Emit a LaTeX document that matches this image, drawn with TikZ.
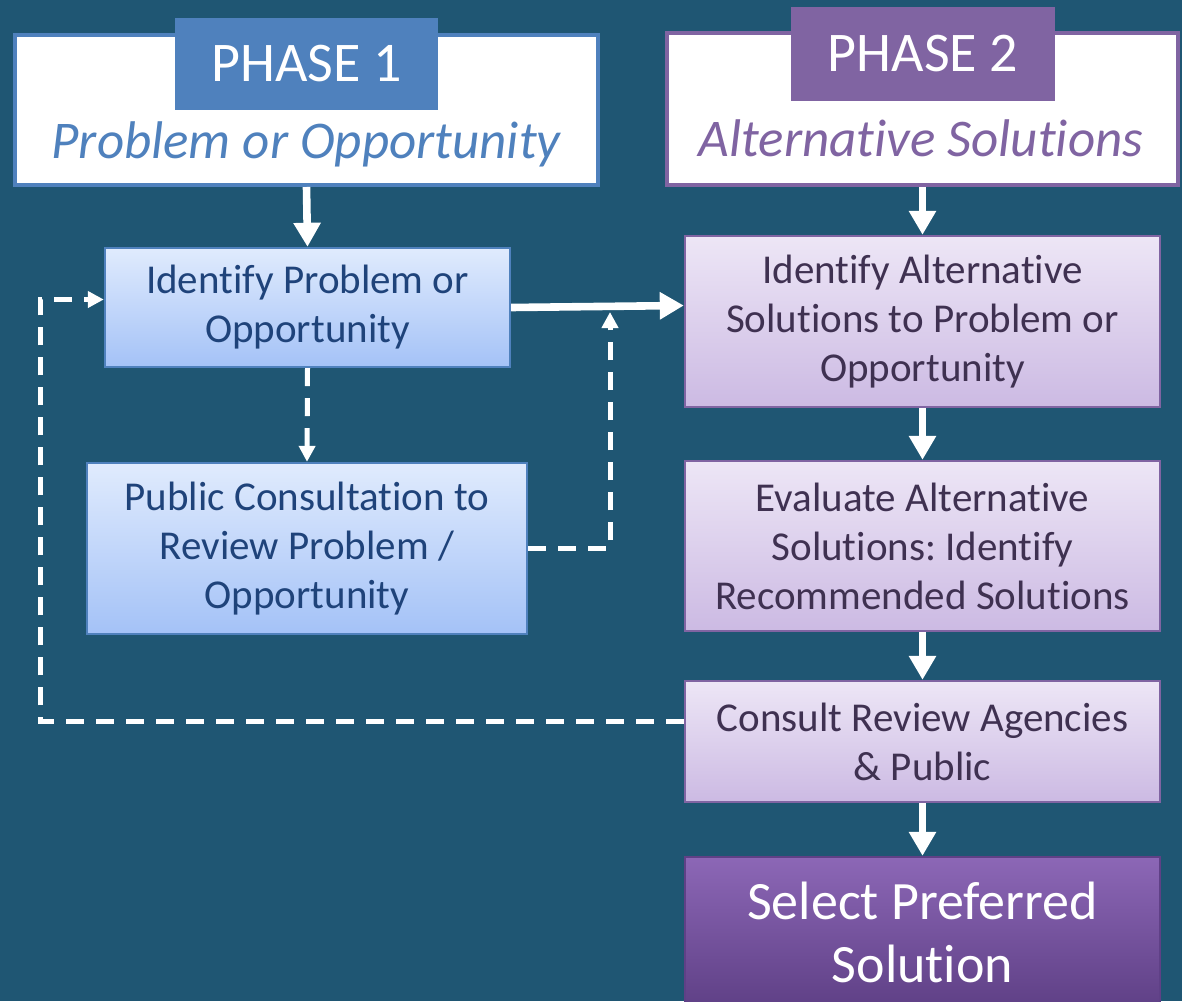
\documentclass[tikz,border=0pt]{standalone}
\usepackage{fontspec}
\setmainfont{Carlito}[Ligatures=NoCommon]
\usetikzlibrary{arrows.meta,calc}
\frenchspacing

\definecolor{bgteal}{HTML}{1F5673}
\definecolor{phaseblue}{HTML}{4F81BD}
\definecolor{phasepurple}{HTML}{8064A2}
\definecolor{bluetext}{HTML}{1F437A}
\definecolor{purpletext}{HTML}{3F3151}
\definecolor{bluetop}{HTML}{E0EBFD}
\definecolor{bluebottom}{HTML}{A4C2F7}
\definecolor{purpletop}{HTML}{EDE6F6}
\definecolor{purplebottom}{HTML}{CCBAE3}
\definecolor{finaltop}{HTML}{8C67B6}
\definecolor{finalbottom}{HTML}{5F4086}

\begin{document}
\begin{tikzpicture}[
    x=0.5pt, y=-0.5pt,
    phasebox/.style={rectangle, fill=white, line width=2pt, inner sep=0pt},
    phaselabel/.style={rectangle, text=white, inner sep=0pt, font=\fontsize{28}{32}\selectfont},
    subtitle/.style={anchor=base, font=\fontsize{26.5}{31}\selectfont\itshape},
    bluestep/.style={rectangle, draw=phaseblue, line width=1.2pt, top color=bluetop, bottom color=bluebottom,
        text=bluetext, align=center, inner sep=0pt, minimum width=202.5pt, font=\fontsize{20.5}{24.5}\selectfont},
    purplestep/.style={rectangle, draw=phasepurple, line width=1.2pt, top color=purpletop, bottom color=purplebottom,
        text=purpletext, align=center, inner sep=0pt, minimum width=237.5pt, font=\fontsize{20.5}{24.5}\selectfont},
    finalstep/.style={rectangle, draw=finalbottom, line width=1.2pt, top color=finaltop, bottom color=finalbottom,
        text=white, align=center, inner sep=0pt, minimum width=237.5pt, font=\fontsize{27}{31.5}\selectfont},
    arrow/.style={-{Triangle[width=13pt,length=12pt]}, white, line width=3.8pt},
    dasharrow/.style={-{Triangle[width=8pt,length=8pt]}, white, line width=2.5pt, dash pattern=on 9pt off 6pt}
]
    \useasboundingbox[fill=bgteal] (0,0) rectangle (1182,1001);

    % Phase headers
    \node[phasebox, draw=phaseblue, minimum width=291.5pt, minimum height=75pt] (phaseone) at (306.5,110) {};
    \node[phaselabel, fill=phaseblue, minimum width=131.5pt, minimum height=46pt] (phaseonelabel) at (306.5,64) {PHASE 1};
    \node[subtitle, text=phaseblue] (phaseonetitle) at (306,158) {Problem or Opportunity};

    \node[phasebox, draw=phasepurple, line width=2.4pt, minimum width=255.5pt, minimum height=76pt] (phasetwo) at (922.5,109) {};
    \node[phaselabel, fill=phasepurple, minimum width=132pt, minimum height=47pt] (phasetwolabel) at (923,54) {PHASE 2};
    \node[subtitle, text=phasepurple] (phasetwotitle) at (921,156) {Alternative Solutions};

    % Phase 1 steps
    \node[bluestep, minimum height=59.5pt] (identprob) at (307.5,307.5) {Identify Problem or\\Opportunity};
    \node[bluestep, minimum width=220pt, minimum height=85.5pt] (pubcons) at (307,548.5) {Public Consultation to\\Review Problem /\\Opportunity};

    % Phase 2 steps
    \node[purplestep, minimum height=85.5pt] (altsol) at (922.5,321.5) {Identify Alternative\\Solutions to Problem or\\Opportunity};
    \node[purplestep, minimum height=85pt] (evalsol) at (922.5,546) {Evaluate Alternative\\Solutions: Identify\\Recommended Solutions};
    \node[purplestep, minimum height=60.5pt] (consult) at (922.5,741.5) {Consult Review Agencies\\\& Public};
    \node[finalstep, minimum height=75pt] (select) at (922.5,932) {Select Preferred\\Solution};

    % Main flow
    \draw[arrow] (phaseone.south) -- (identprob.north);
    \draw[arrow] (phasetwo.south -| altsol.north) -- (altsol.north);
    \draw[arrow] (identprob.east) -- ([yshift=8pt]altsol.west);
    \draw[arrow] (altsol.south) -- (evalsol.north);
    \draw[arrow] (evalsol.south) -- (consult.north);
    \draw[arrow] (consult.south) -- (select.north);

    % Consultation loops
    \coordinate (feedup) at (610,312);
    \coordinate (leftrail) at (40,500);
    \draw[dasharrow] (identprob.south) -- (pubcons.north);
    \draw[dasharrow] (pubcons.east) -| (feedup);
    \draw[dasharrow] ([yshift=10pt]consult.west) -| (leftrail) |- ([yshift=4pt]identprob.west);
\end{tikzpicture}
\end{document}
